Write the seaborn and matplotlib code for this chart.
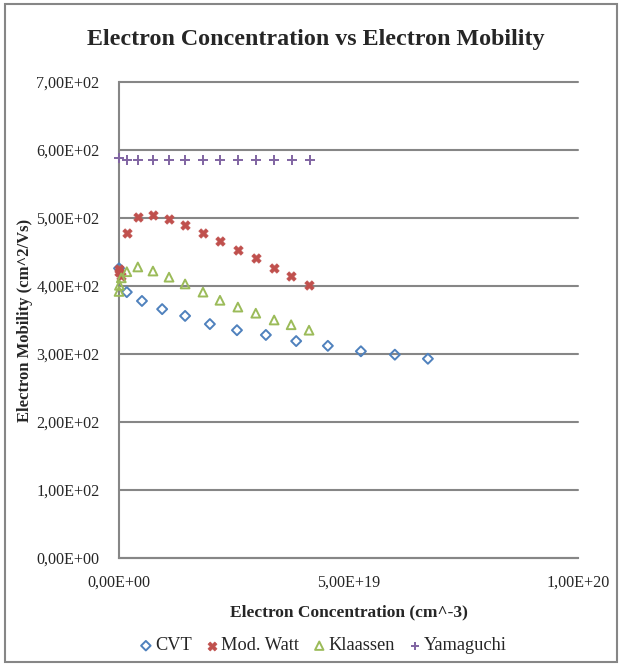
import numpy as np
import pandas as pd
import matplotlib
matplotlib.use("Agg")
import matplotlib.pyplot as plt
import matplotlib.ticker as mticker
import seaborn as sb

# Datos (x en unidades de 1E18 cm^-3, y en cm^2/Vs)
x_cvt = [0.01, 1.7, 5.0, 9.4, 14.4, 19.8, 25.7, 32.0, 38.6, 45.5, 52.7, 60.1, 67.3]
y_cvt = [426, 391, 378, 366, 356, 344, 335, 328, 319, 312, 304, 299, 293]

x_watt = [0.01, 0.1, 0.5, 1.7, 4.1, 7.4, 10.9, 14.4, 18.3, 22.0, 25.9, 29.8, 33.8, 37.5, 41.4]
y_watt = [425, 420, 414, 478, 501, 504, 499, 490, 478, 466, 453, 441, 426, 415, 401]

x_klaassen = [0.01, 0.1, 0.5, 1.7, 4.1, 7.4, 10.9, 14.4, 18.3, 22.0, 25.9, 29.8, 33.8, 37.5, 41.4]
y_klaassen = [392, 401, 412, 421, 428, 422, 413, 403, 391, 379, 369, 360, 350, 343, 335]

x_yama = [0.01, 1.7, 4.1, 7.4, 10.9, 14.4, 18.3, 22.0, 25.9, 29.8, 33.8, 37.7, 41.6]
y_yama = [588, 586, 585, 585, 586, 586, 586, 586, 586, 586, 586, 586, 586]

series = [
    ("CVT", x_cvt, y_cvt, "#4F81BD", "D", 26, True),
    ("Mod. Watt", x_watt, y_watt, "#C0504D", "X", 46, False),
    ("Klaassen", x_klaassen, y_klaassen, "#9BBB59", "^", 40, True),
    ("Yamaguchi", x_yama, y_yama, "#8064A2", "+", 42, False),
]

sb.set_style("white")
plt.rcParams["font.family"] = ["Liberation Serif", "DejaVu Serif"]

fig = plt.figure(figsize=(6.2, 6.65), dpi=100)
ax = fig.add_axes([119 / 620, 1 - 558 / 665, (578 - 119) / 620, (558 - 82) / 665])

for nombre, xs, ys, color, marca, tam, hueco in series:
    df = pd.DataFrame({"x": np.array(xs) * 1e18, "y": ys})
    if hueco:
        sb.scatterplot(data=df, x="x", y="y", ax=ax, marker=marca, s=tam,
                       facecolors="none", edgecolor=color, linewidth=1.4,
                       label=nombre, zorder=3, clip_on=False)
    elif marca == "+":
        sb.scatterplot(data=df, x="x", y="y", ax=ax, marker=marca, s=tam,
                       color=color, linewidth=1.4, label=nombre, zorder=3, clip_on=False)
    else:
        sb.scatterplot(data=df, x="x", y="y", ax=ax, marker=marca, s=tam,
                       color=color, edgecolor=color, linewidth=0.5,
                       label=nombre, zorder=3, clip_on=False)

ax.set_xlim(0, 1e20)
ax.set_ylim(0, 700)
ax.set_xticks([0, 5e19, 1e20])
ax.set_yticks(np.arange(0, 701, 100))
fmt = mticker.FuncFormatter(lambda v, p: f"{v:.2E}".replace(".", ","))
ax.xaxis.set_major_formatter(fmt)
ax.yaxis.set_major_formatter(fmt)

ax.grid(axis="y", color="#868686", linewidth=1.5)
ax.grid(axis="x", visible=False)
for linea in ax.get_ygridlines():
    linea.set_clip_on(False)
ax.set_axisbelow(True)
for lado in ["top", "right"]:
    ax.spines[lado].set_visible(False)
for lado in ["left", "bottom"]:
    ax.spines[lado].set_color("#868686")
    ax.spines[lado].set_linewidth(1.5)
ax.tick_params(axis="both", direction="out", length=5, width=1.5, color="#868686",
               labelsize=11.6)
ax.tick_params(axis="y", pad=9)
ax.tick_params(axis="x", pad=7)

ax.set_xlabel("Electron Concentration (cm^-3)", fontsize=12.5, fontweight="bold", labelpad=10)
ax.set_ylabel("")
fig.text(25 / 620, 1 - 320 / 665, "Electron Mobility (cm^2/Vs)", rotation=90,
         fontsize=12, fontweight="bold", ha="center", va="center")
fig.text(316 / 620, 1 - 40 / 665, "Electron Concentration vs Electron Mobility",
         fontsize=17.3, fontweight="bold", ha="center", va="center")

leg = ax.legend(loc="center", bbox_to_anchor=(321 / 620, 1 - 646 / 665),
                bbox_transform=fig.transFigure, ncol=4, frameon=False,
                fontsize=13.2, handletextpad=-0.1, columnspacing=0.5,
                markerscale=0.95, handlelength=1.2)

# Marco exterior del grafico
marco = plt.Rectangle((5 / 620, 3 / 665), 612 / 620, 658 / 665, transform=fig.transFigure,
                      fill=False, edgecolor="#868686", linewidth=1.5)
fig.patches.append(marco)

fig.savefig("out.png", dpi=100)
